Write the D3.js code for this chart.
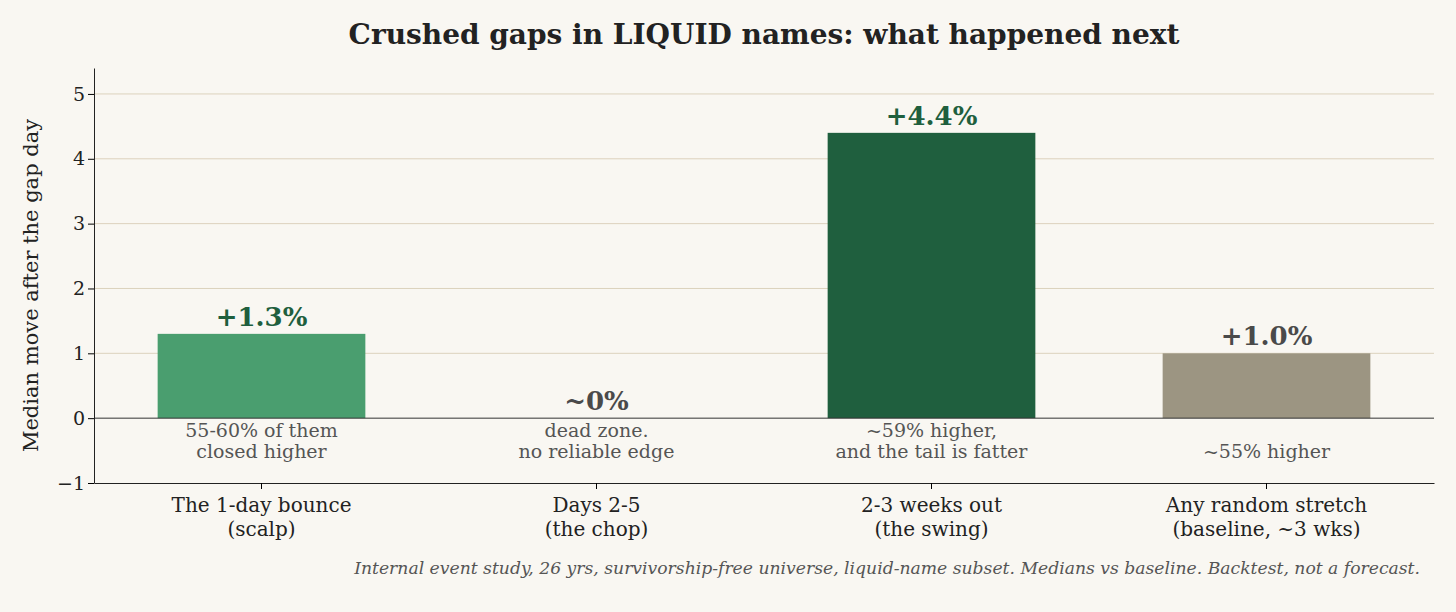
<!DOCTYPE html>
<html><head><meta charset="utf-8">
<script src="https://cdn.jsdelivr.net/npm/d3@7"></script>
<style>body{margin:0;background:#f9f7f2}svg{font-family:"DejaVu Serif",serif}</style>
</head><body><svg id="c" width="1456" height="612"></svg>
<script>
const categories = ["The 1-day bounce\n(scalp)", "Days 2-5\n(the chop)", "2-3 weeks out\n(the swing)", "Any random stretch\n(baseline, ~3 wks)"];
const values = [1.3, 0, 4.4, 1.0];
const valueLabels = ["+1.3%", "~0%", "+4.4%", "+1.0%"];
const notes = [["55-60% of them", "closed higher"], ["dead zone.", "no reliable edge"], ["~59% higher,", "and the tail is fatter"], ["", "~55% higher"]];
const yTicks = [-1, 0, 1, 2, 3, 4, 5];
const barColors = ["#4a9e6f", "#4a9e6f", "#1f5f3e", "#9c9582"];
const labelColors = ["#1f5f3e", "#4a4a4a", "#1f5f3e", "#4a4a4a"];

const svg = d3.select("#c");
const m = {l: 94, r: 1434, t: 68, b: 483};
const x = d3.scaleBand().domain(d3.range(categories.length)).range([m.l, m.r]).paddingInner(0.38).paddingOuter(0.19);
const y = d3.scaleLinear().domain([-1, 5.4]).range([m.b, m.t]);

svg.append("g").selectAll("line").data(yTicks.filter(d => d > 0)).join("line")
  .attr("x1", m.l).attr("x2", m.r).attr("y1", d => y(d)).attr("y2", d => y(d))
  .attr("stroke", "#dcd2bd").attr("stroke-width", 1);

svg.append("g").selectAll("rect").data(values).join("rect")
  .attr("x", (d, i) => x(i)).attr("width", x.bandwidth())
  .attr("y", d => y(Math.max(d, 0))).attr("height", d => Math.abs(y(d) - y(0)))
  .attr("fill", (d, i) => barColors[i]);

svg.append("line").attr("x1", m.l).attr("x2", m.r).attr("y1", y(0)).attr("y2", y(0)).attr("stroke", "#333").attr("stroke-width", 1);

const ya = svg.append("g").attr("transform", `translate(${m.l},0)`)
  .call(d3.axisLeft(y).tickValues(yTicks).tickFormat(d => d < 0 ? "\u2212" + (-d) : d).tickSizeOuter(0));
ya.selectAll("text").attr("font-size", 19).attr("fill", "#222").attr("font-family", "DejaVu Serif");
ya.select(".domain").attr("stroke", "#222");

const xa = svg.append("g").attr("transform", `translate(0,${m.b})`)
  .call(d3.axisBottom(x).tickFormat("").tickSizeOuter(0));
xa.select(".domain").attr("stroke", "#222");
xa.selectAll(".tick").each(function(d) {
  const t = d3.select(this).append("text").attr("fill", "#222").attr("font-size", 20)
    .attr("font-family", "DejaVu Serif").attr("text-anchor", "middle");
  categories[d].split("\n").forEach((s, k) => t.append("tspan").attr("x", 0).attr("y", 29 + k * 24).text(s));
});

svg.append("g").selectAll("text").data(values).join("text")
  .attr("x", (d, i) => x(i) + x.bandwidth() / 2).attr("y", d => y(d) - 8)
  .attr("text-anchor", "middle").attr("font-size", 26).attr("font-weight", "bold")
  .attr("fill", (d, i) => labelColors[i]).text((d, i) => valueLabels[i]);

notes.forEach((n, i) => {
  n.forEach((s, k) => svg.append("text").attr("x", x(i) + x.bandwidth() / 2).attr("y", y(0) + 19 + k * 21)
    .attr("text-anchor", "middle").attr("font-size", 19).attr("fill", "#555").text(s));
});

svg.append("text").attr("x", 764).attr("y", 44).attr("text-anchor", "middle")
  .attr("font-size", 28).attr("font-weight", "bold").attr("fill", "#222")
  .text("Crushed gaps in LIQUID names: what happened next");

svg.append("text").attr("transform", `translate(38,${(m.t + m.b) / 2 + 10}) rotate(-90)`)
  .attr("text-anchor", "middle").attr("font-size", 21).attr("fill", "#222")
  .text("Median move after the gap day");

svg.append("text").attr("x", 1420).attr("y", 574).attr("text-anchor", "end")
  .attr("font-size", 17.2).attr("font-style", "italic").attr("fill", "#555")
  .text("Internal event study, 26 yrs, survivorship-free universe, liquid-name subset. Medians vs baseline. Backtest, not a forecast.");
</script></body></html>
